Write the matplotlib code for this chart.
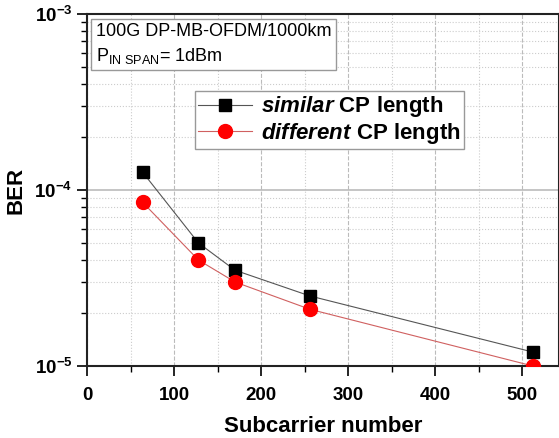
import math
import matplotlib.pyplot as plt
from matplotlib.ticker import MultipleLocator, LogLocator, NullFormatter

plt.rcParams['font.family'] = ['Liberation Sans', 'DejaVu Sans']
plt.rcParams['mathtext.fontset'] = 'custom'
plt.rcParams['mathtext.rm'] = 'Liberation Sans'
plt.rcParams['mathtext.it'] = 'Liberation Sans:italic'
plt.rcParams['mathtext.bf'] = 'Liberation Sans:bold'
plt.rcParams['mathtext.bfit'] = 'Liberation Sans:italic:bold'

# data
subcarriers = [64, 128, 170, 256, 512]
ber_similar = [1.26e-4, 5.0e-5, 3.5e-5, 2.5e-5, 1.2e-5]
ber_different = [8.5e-5, 4.0e-5, 3.0e-5, 2.1e-5, 1.0e-5]

fig = plt.figure(figsize=(5.59, 4.38), dpi=100)
ax = fig.add_axes([0.1556, 0.1644, 0.8444, 0.8036])

ax.plot(subcarriers, ber_similar, color='#555555', lw=0.8, marker='s', ms=8,
        mfc='black', mec='black', label=r'$\mathbfit{similar}$ CP length', zorder=3)
ax.plot(subcarriers, ber_different, color='#d06060', lw=0.8, marker='o', ms=10,
        mfc='red', mec='red', label=r'$\mathbfit{different}$ CP length', zorder=3)

ax.set_yscale('log')
ax.set_xlim(0, 542)
ax.set_ylim(1e-5, 1e-3)

ax.xaxis.set_major_locator(MultipleLocator(100))
ax.xaxis.set_minor_locator(MultipleLocator(50))
ax.yaxis.set_major_locator(LogLocator(base=10, numticks=5))
ax.yaxis.set_minor_locator(LogLocator(base=10, subs=range(2, 10), numticks=20))
ax.yaxis.set_minor_formatter(NullFormatter())

ax.grid(which='major', axis='x', color='#bbbbbb', ls='--', lw=0.8)
ax.grid(which='minor', axis='x', color='#cccccc', ls=':', lw=0.8)
ax.grid(which='major', axis='y', color='#bbbbbb', ls='-', lw=1.2)
ax.grid(which='minor', axis='y', color='#cccccc', ls=':', lw=0.8)

ax.tick_params(which='major', direction='out', length=7, width=1.2, labelsize=13.5)
ax.tick_params(axis='x', which='major', pad=8)
ax.tick_params(which='minor', direction='out', length=4, width=1.0)
for lbl in ax.get_xticklabels() + ax.get_yticklabels():
    lbl.set_fontweight('bold')
ax.yaxis.set_major_formatter(plt.FuncFormatter(
    lambda v, p: r'$\mathbf{10^{%d}}$' % round(math.log10(v))))

for s in ax.spines.values():
    s.set_linewidth(1.5)
    s.set_color('#222222')

ax.set_xlabel('Subcarrier number', fontsize=16, fontweight='bold', labelpad=9)
ax.set_ylabel('BER', fontsize=16, fontweight='bold', labelpad=6)

ax.text(0.019, 0.975, '100G DP-MB-OFDM/1000km\n' + r'P$_{\mathrm{IN\ SPAN}}$= 1dBm',
        transform=ax.transAxes, fontsize=13, va='top', ha='left', linespacing=1.4,
        bbox=dict(boxstyle='square,pad=0.25', fc='white', ec='#999999', lw=1))

leg = ax.legend(loc='upper left', bbox_to_anchor=(0.229, 0.781), borderaxespad=0,
                fancybox=False, edgecolor='#999999', framealpha=1,
                prop={'size': 16, 'weight': 'bold'}, handlelength=2.4,
                borderpad=0.15, labelspacing=0.05, handletextpad=0.4)
leg.get_frame().set_linewidth(1)

fig.savefig('out.png', dpi=100)
